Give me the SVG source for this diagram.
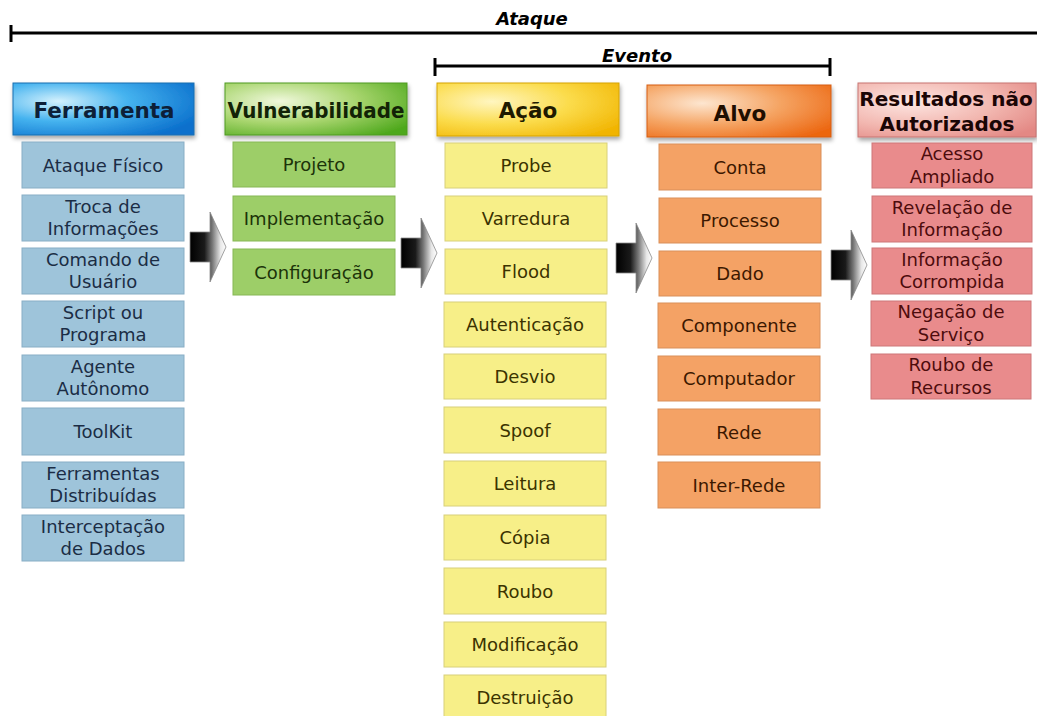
<svg xmlns="http://www.w3.org/2000/svg" xmlns:xlink="http://www.w3.org/1999/xlink" width="1037" height="716" viewBox="0 0 1037 716">
<style>
text{font-family:"DejaVu Sans",Verdana,"Liberation Sans",sans-serif;text-anchor:middle}
.span{stroke:#000;stroke-width:3;fill:none}
.spanlbl{font-size:18px;font-weight:bold;font-style:italic;fill:#000}
.hdr{font-size:21.5px;font-weight:bold;fill:#111}
.hdr2{font-size:20px;font-weight:bold}
.it{font-size:18px}
.blue rect.b{fill:#9ec4da;stroke:#88aec5;stroke-width:1}
.blue text{fill:#1b2d45}
.green rect.b{fill:#9dce68;stroke:#86b755;stroke-width:1}
.green text{fill:#1c3309}
.yellow rect.b{fill:#f7ef88;stroke:#d8d07a;stroke-width:1}
.yellow text{fill:#3b3300}
.orange rect.b{fill:#f4a265;stroke:#d98f5a;stroke-width:1}
.orange text{fill:#3c1800}
.pink rect.b{fill:#e98b8c;stroke:#cd7778;stroke-width:1}
.pink text{fill:#4d0c0c}
.hbox{stroke-width:1;filter:url(#sh)}
</style>
<defs>
<filter id="sh" x="-10%" y="-20%" width="120%" height="150%">
<feDropShadow dx="1" dy="3" stdDeviation="2" flood-color="#000" flood-opacity="0.35"/>
</filter>
<radialGradient id="gBlue" cx="0.25" cy="0.35" r="0.85"><stop offset="0" stop-color="#d4f1fd"/><stop offset="0.45" stop-color="#45b3ef"/><stop offset="1" stop-color="#0a6fcc"/></radialGradient>
<radialGradient id="gGreen" cx="0.3" cy="0.35" r="0.85"><stop offset="0" stop-color="#f0f8dc"/><stop offset="0.5" stop-color="#a8d56e"/><stop offset="1" stop-color="#4ea81c"/></radialGradient>
<radialGradient id="gYellow" cx="0.3" cy="0.35" r="0.85"><stop offset="0" stop-color="#fff6c0"/><stop offset="0.5" stop-color="#fbdc4c"/><stop offset="1" stop-color="#f1b400"/></radialGradient>
<radialGradient id="gOrange" cx="0.3" cy="0.35" r="0.85"><stop offset="0" stop-color="#fde6d0"/><stop offset="0.5" stop-color="#f5a463"/><stop offset="1" stop-color="#ec6610"/></radialGradient>
<radialGradient id="gPink" cx="0.3" cy="0.35" r="0.85"><stop offset="0" stop-color="#fde6e2"/><stop offset="0.55" stop-color="#f2b7b0"/><stop offset="1" stop-color="#e38884"/></radialGradient>
<linearGradient id="gArrow" x1="0" y1="0" x2="1" y2="0"><stop offset="0" stop-color="#000"/><stop offset="0.4" stop-color="#1a1a1a"/><stop offset="0.62" stop-color="#777"/><stop offset="0.85" stop-color="#e8e8e8"/><stop offset="1" stop-color="#fff"/></linearGradient>
<path id="arrow" d="M-36,-15 H-16 V-35 L0,0 L-16,35 V15 H-36 Z" fill="url(#gArrow)" stroke="#8a8a8a" stroke-width="0.8"/>
</defs>
<rect width="1037" height="716" fill="#fff"/>

<g id="spans">
<line class="span" x1="11" y1="33" x2="1037" y2="33"/>
<line class="span" x1="11" y1="25" x2="11" y2="42"/>
<text class="spanlbl" x="532" y="25">Ataque</text>
<line class="span" x1="435" y1="66" x2="830" y2="66"/>
<line class="span" x1="435" y1="58" x2="435" y2="76"/>
<line class="span" x1="830" y1="58" x2="830" y2="76"/>
<text class="spanlbl" x="637" y="62">Evento</text>
</g>

<g id="connectors">
<use href="#arrow" x="226" y="247"/>
<use href="#arrow" x="437" y="253"/>
<use href="#arrow" x="652" y="258"/>
<use href="#arrow" x="867" y="265"/>
</g>

<g id="ferramenta" class="blue">
<rect class="hbox" x="13" y="83" width="181" height="52" style="fill:url(#gBlue)" stroke="#1a6fb0"/>
<text class="hdr" x="104" y="118" style="fill:#0d1f38">Ferramenta</text>
<rect class="b" x="22" y="142" width="162" height="46"/><text class="it" x="103" y="171.5">Ataque Físico</text>
<rect class="b" x="22" y="195" width="162" height="46"/><text class="it" x="103" y="212.5">Troca de</text><text class="it" x="103" y="235">Informações</text>
<rect class="b" x="22" y="248" width="162" height="46"/><text class="it" x="103" y="265.5">Comando de</text><text class="it" x="103" y="288">Usuário</text>
<rect class="b" x="22" y="301" width="162" height="46"/><text class="it" x="103" y="318.5">Script ou</text><text class="it" x="103" y="341">Programa</text>
<rect class="b" x="22" y="355" width="162" height="46"/><text class="it" x="103" y="372.5">Agente</text><text class="it" x="103" y="395">Autônomo</text>
<rect class="b" x="22" y="408" width="162" height="47"/><text class="it" x="103" y="438">ToolKit</text>
<rect class="b" x="22" y="462" width="162" height="46"/><text class="it" x="103" y="479.5">Ferramentas</text><text class="it" x="103" y="502">Distribuídas</text>
<rect class="b" x="22" y="515" width="162" height="46"/><text class="it" x="103" y="532.5">Interceptação</text><text class="it" x="103" y="555">de Dados</text>
</g>

<g id="vulnerabilidade" class="green">
<rect class="hbox" x="225" y="83" width="182" height="52" style="fill:url(#gGreen)" stroke="#4f9a22"/>
<text class="hdr" x="316" y="118" textLength="177" lengthAdjust="spacingAndGlyphs" style="fill:#122306">Vulnerabilidade</text>
<rect class="b" x="233" y="142" width="162" height="45"/><text class="it" x="314" y="171">Projeto</text>
<rect class="b" x="233" y="196" width="162" height="45"/><text class="it" x="314" y="225">Implementação</text>
<rect class="b" x="233" y="249" width="162" height="46"/><text class="it" x="314" y="278.5">Configuração</text>
</g>

<g id="acao" class="yellow">
<rect class="hbox" x="437" y="83" width="182" height="53" style="fill:url(#gYellow)" stroke="#d6a300"/>
<text class="hdr" x="528" y="118" style="fill:#1f1a00">Ação</text>
<rect class="b" x="445" y="143" width="162" height="45"/><text class="it" x="526" y="172">Probe</text>
<rect class="b" x="445" y="196" width="162" height="45"/><text class="it" x="526" y="225">Varredura</text>
<rect class="b" x="445" y="249" width="162" height="45"/><text class="it" x="526" y="278">Flood</text>
<rect class="b" x="444" y="302" width="162" height="45"/><text class="it" x="525" y="331">Autenticação</text>
<rect class="b" x="444" y="354" width="162" height="45"/><text class="it" x="525" y="383">Desvio</text>
<rect class="b" x="444" y="407" width="162" height="46"/><text class="it" x="525" y="436.5">Spoof</text>
<rect class="b" x="444" y="461" width="162" height="45"/><text class="it" x="525" y="490">Leitura</text>
<rect class="b" x="444" y="515" width="162" height="45"/><text class="it" x="525" y="544">Cópia</text>
<rect class="b" x="444" y="568" width="162" height="46"/><text class="it" x="525" y="597.5">Roubo</text>
<rect class="b" x="444" y="622" width="162" height="45"/><text class="it" x="525" y="651">Modificação</text>
<rect class="b" x="444" y="675" width="162" height="45"/><text class="it" x="525" y="704">Destruição</text>
</g>

<g id="alvo" class="orange">
<rect class="hbox" x="647" y="85" width="184" height="52" style="fill:url(#gOrange)" stroke="#d65e10"/>
<text class="hdr" x="740" y="121" style="fill:#1f0e00">Alvo</text>
<rect class="b" x="659" y="144" width="162" height="46"/><text class="it" x="740" y="173.5">Conta</text>
<rect class="b" x="659" y="198" width="162" height="45"/><text class="it" x="740" y="227">Processo</text>
<rect class="b" x="659" y="251" width="162" height="45"/><text class="it" x="740" y="280">Dado</text>
<rect class="b" x="658" y="303" width="162" height="45"/><text class="it" x="739" y="332">Componente</text>
<rect class="b" x="658" y="356" width="162" height="45"/><text class="it" x="739" y="385">Computador</text>
<rect class="b" x="658" y="409" width="162" height="46"/><text class="it" x="739" y="438.5">Rede</text>
<rect class="b" x="658" y="462" width="162" height="46"/><text class="it" x="739" y="491.5">Inter-Rede</text>
</g>

<g id="resultados" class="pink">
<rect class="hbox" x="858" y="83" width="178" height="54" style="fill:url(#gPink)" stroke="#c77572"/>
<text class="hdr2" x="946" y="106" style="fill:#1a0505">Resultados não</text>
<text class="hdr2" x="947" y="131" style="fill:#1a0505">Autorizados</text>
<rect class="b" x="872" y="143" width="160" height="45"/><text class="it" x="952" y="160">Acesso</text><text class="it" x="952" y="182.5">Ampliado</text>
<rect class="b" x="872" y="196" width="160" height="46"/><text class="it" x="952" y="213.5">Revelação de</text><text class="it" x="952" y="236">Informação</text>
<rect class="b" x="872" y="248" width="160" height="46"/><text class="it" x="952" y="265.5">Informação</text><text class="it" x="952" y="288">Corrompida</text>
<rect class="b" x="871" y="301" width="160" height="45"/><text class="it" x="951" y="318">Negação de</text><text class="it" x="951" y="340.5">Serviço</text>
<rect class="b" x="871" y="354" width="160" height="45"/><text class="it" x="951" y="371">Roubo de</text><text class="it" x="951" y="393.5">Recursos</text>
</g>
</svg>
